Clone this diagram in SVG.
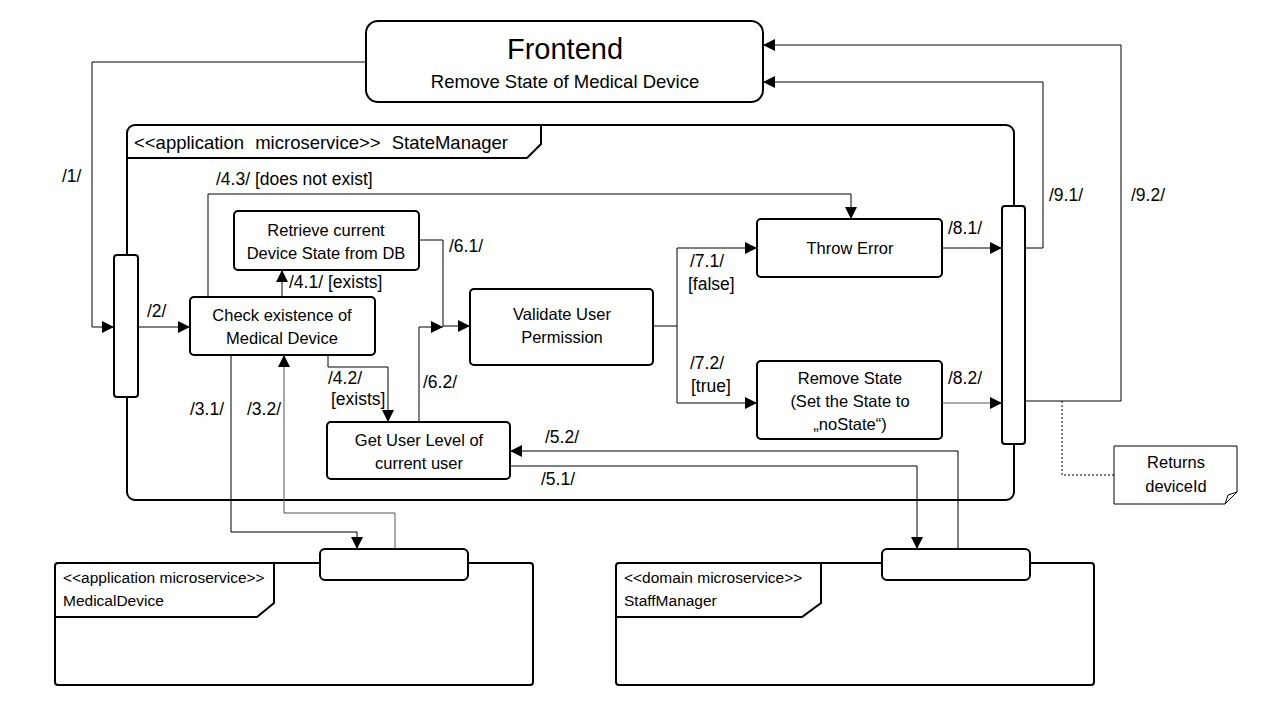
<svg xmlns="http://www.w3.org/2000/svg" width="1280" height="720" viewBox="0 0 1280 720">
<defs>
<marker id="arr" markerUnits="userSpaceOnUse" markerWidth="12" markerHeight="12" viewBox="0 0 12 12" refX="12" refY="6" orient="auto">
<path d="M0,0 L12,6 L0,12 Z" fill="#000"/>
</marker>
</defs>
<style>
text{font-family:"Liberation Sans",Arial,sans-serif;fill:#000}
.box{fill:#fff;stroke:#000;stroke-width:2}
.frame{fill:none;stroke:#000;stroke-width:2}
.c{fill:none;stroke:#000;stroke-width:1}
.g{stroke:#555}
.a{marker-end:url(#arr)}
.t{font-size:16.5px;text-anchor:middle}
.l{font-size:17.5px}
.dash{fill:none;stroke:#000;stroke-width:1;stroke-dasharray:2,2}
</style>
<rect width="1280" height="720" fill="#fff"/>

<g id="frontend">
<rect class="box" x="366" y="21" width="397" height="81" rx="12"/>
<text x="565" y="59" font-size="29" text-anchor="middle">Frontend</text>
<text x="565" y="88" font-size="18.5" text-anchor="middle">Remove State of Medical Device</text>
</g>

<g id="statemanager">
<rect class="frame" x="127" y="125" width="887" height="375" rx="8"/>
<path class="frame" d="M127,158 H527 L541,144 V125"/>
<text x="134" y="149" font-size="18.5" word-spacing="6">&lt;&lt;application microservice&gt;&gt; StateManager</text>
</g>

<g id="medicaldevice">
<rect class="frame" x="55" y="563" width="478" height="122" rx="3"/>
<path class="frame" d="M55,617 H257 L274,603 V563"/>
<text x="63" y="583" font-size="15.5">&lt;&lt;application microservice&gt;&gt;</text>
<text x="63" y="606" font-size="15.5">MedicalDevice</text>
<rect class="box" x="320" y="549" width="148" height="31" rx="5"/>
</g>

<g id="staffmanager">
<rect class="frame" x="616" y="563" width="478" height="122" rx="3"/>
<path class="frame" d="M616,617 H802 L821,603 V563"/>
<text x="624" y="583" font-size="15.5">&lt;&lt;domain microservice&gt;&gt;</text>
<text x="624" y="606" font-size="15.5">StaffManager</text>
<rect class="box" x="882" y="549" width="148" height="31" rx="5"/>
</g>

<g id="leftbar"><rect class="box" x="114" y="255" width="24" height="142" rx="3"/></g>
<g id="rightbar"><rect class="box" x="1002" y="206" width="23" height="238" rx="3"/></g>

<g id="check">
<rect class="box" x="190" y="297" width="185" height="58" rx="4"/>
<text class="t" x="282" y="321">Check existence of</text>
<text class="t" x="282" y="344">Medical Device</text>
</g>
<g id="retrieve">
<rect class="box" x="234" y="211" width="185" height="59" rx="4"/>
<text class="t" x="326" y="236">Retrieve current</text>
<text class="t" x="326" y="259">Device State from DB</text>
</g>
<g id="validate">
<rect class="box" x="470" y="289" width="183" height="76" rx="4"/>
<text class="t" x="562" y="320">Validate User</text>
<text class="t" x="562" y="343">Permission</text>
</g>
<g id="getuser">
<rect class="box" x="327" y="422" width="183" height="57" rx="4"/>
<text class="t" x="419" y="446">Get User Level of</text>
<text class="t" x="419" y="469">current user</text>
</g>
<g id="throwerror">
<rect class="box" x="757" y="219" width="185" height="58" rx="4"/>
<text class="t" x="850" y="254">Throw Error</text>
</g>
<g id="removestate">
<rect class="box" x="757" y="361" width="185" height="78" rx="4"/>
<text class="t" x="850" y="384">Remove State</text>
<text class="t" x="850" y="407">(Set the State to</text>
<text class="t" x="850" y="430">„noState“)</text>
</g>
<g id="note">
<path d="M1114,446 H1237 V492 L1225,504 H1114 Z" fill="#fff" stroke="#000" stroke-width="1"/>
<path d="M1225,504 L1228,495 L1237,492" fill="none" stroke="#000" stroke-width="1"/>
<text class="t" x="1176" y="468">Returns</text>
<text class="t" x="1176" y="492">deviceId</text>
</g>

<g id="connectors">
<path class="c a" d="M366,62 H92 V327 H114"/>
<path class="c a" d="M138,327 H190"/>
<path class="c a" d="M282,297 V270"/>
<path class="c a" d="M208,297 V194 H851 V219"/>
<path class="c a" d="M419,240 H443 V326 H470"/>
<path class="c a" d="M419,422 V327 H443"/>
<path class="c a" d="M328,355 V367 H388 V422"/>
<path class="c a" d="M653,326 H677 V248 H757"/>
<path class="c a" d="M677,326 V403 H757"/>
<path class="c a" d="M942,248 H1002"/>
<path class="c g a" d="M942,403 H1002"/>
<path class="c a" d="M1025,248 H1043 V82 H763"/>
<path class="c a" d="M1025,401 H1121 V45 H763"/>
<path class="dash" d="M1062,401 V475 H1114"/>
<path class="c a" d="M231,355 V532 H357 V549"/>
<path class="c g a" d="M395,549 V513 H284 V355"/>
<path class="c a" d="M510,466 H917 V549"/>
<path class="c a" d="M958,549 V451 H510"/>
</g>

<g id="labels">
<text class="l" x="62" y="182">/1/</text>
<text class="l" x="147" y="317">/2/</text>
<text class="l" x="289" y="288">/4.1/ [exists]</text>
<text class="l" x="216" y="185">/4.3/ [does not exist]</text>
<text class="l" x="449" y="252">/6.1/</text>
<text class="l" x="328" y="384">/4.2/</text>
<text class="l" x="331" y="405">[exists]</text>
<text class="l" x="423" y="388">/6.2/</text>
<text class="l" x="190" y="415">/3.1/</text>
<text class="l" x="247" y="415">/3.2/</text>
<text class="l" x="690" y="267">/7.1/</text>
<text class="l" x="688" y="290">[false]</text>
<text class="l" x="690" y="369">/7.2/</text>
<text class="l" x="691" y="392">[true]</text>
<text class="l" x="948" y="234">/8.1/</text>
<text class="l" x="948" y="384">/8.2/</text>
<text class="l" x="1049" y="201">/9.1/</text>
<text class="l" x="1131" y="201">/9.2/</text>
<text class="l" x="545" y="443">/5.2/</text>
<text class="l" x="541" y="485">/5.1/</text>
</g>
</svg>
